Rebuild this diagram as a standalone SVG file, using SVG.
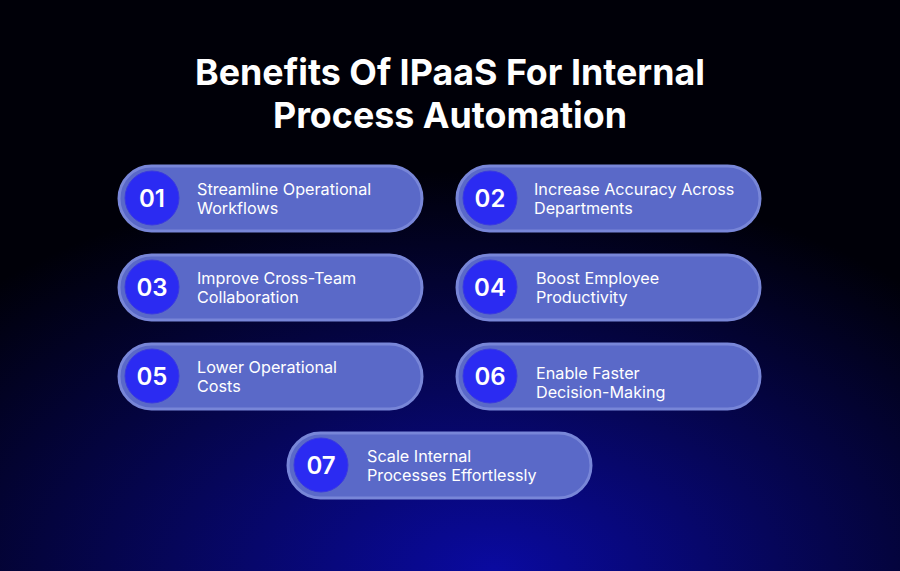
<svg xmlns="http://www.w3.org/2000/svg" width="900" height="571" viewBox="0 0 900 571">
<defs>
<radialGradient id="bg" cx="0.5" cy="1.05" r="0.75" fx="0.55" fy="1">
<stop offset="0" stop-color="#0a0aa0"/>
<stop offset="0.45" stop-color="#06065a"/>
<stop offset="1" stop-color="#000008"/>
</radialGradient>
<style>
.p{fill:#5a69c8;stroke:#7886d8;stroke-width:3}
.c{fill:#2b2bf2;stroke:#3a3ae0;stroke-width:1}
.n{font-family:Inter,"Liberation Sans",sans-serif;font-weight:600;font-size:24px;fill:#fff;text-anchor:middle}
.t{font-family:Inter,"Liberation Sans",sans-serif;font-size:16.2px;fill:#fff}
.h{font-family:Inter,"Liberation Sans",sans-serif;font-weight:700;font-size:35.8px;fill:#fff;text-anchor:middle}
</style>
</defs>
<rect width="900" height="571" fill="url(#bg)"/>
<text class="h" x="450" y="85">Benefits Of IPaaS For Internal</text>
<text class="h" x="450" y="128">Process Automation</text>
<g id="n1"><rect class="p" x="119" y="166" width="303" height="65" rx="32.5"/><circle class="c" cx="152" cy="198" r="27"/><text class="n" x="152" y="207">01</text><text class="t" x="197" y="195">Streamline Operational</text><text class="t" x="197" y="214">Workflows</text></g>
<g id="n2"><rect class="p" x="457" y="166" width="303" height="65" rx="32.5"/><circle class="c" cx="490" cy="198" r="27"/><text class="n" x="490" y="207">02</text><text class="t" x="534" y="195">Increase Accuracy Across</text><text class="t" x="534" y="214">Departments</text></g>
<g id="n3"><rect class="p" x="119" y="255" width="303" height="65" rx="32.5"/><circle class="c" cx="152" cy="287" r="27"/><text class="n" x="152" y="296">03</text><text class="t" x="197" y="284">Improve Cross-Team</text><text class="t" x="197" y="303">Collaboration</text></g>
<g id="n4"><rect class="p" x="457" y="255" width="303" height="65" rx="32.5"/><circle class="c" cx="490" cy="287" r="27"/><text class="n" x="490" y="296">04</text><text class="t" x="536" y="284">Boost Employee</text><text class="t" x="536" y="303">Productivity</text></g>
<g id="n5"><rect class="p" x="119" y="344" width="303" height="65" rx="32.5"/><circle class="c" cx="152" cy="376" r="27"/><text class="n" x="152" y="385">05</text><text class="t" x="197" y="373">Lower Operational</text><text class="t" x="197" y="392">Costs</text></g>
<g id="n6"><rect class="p" x="457" y="344" width="303" height="65" rx="32.5"/><circle class="c" cx="490" cy="376" r="27"/><text class="n" x="490" y="385">06</text><text class="t" x="536" y="379">Enable Faster</text><text class="t" x="536" y="398">Decision-Making</text></g>
<g id="n7"><rect class="p" x="288" y="433" width="303" height="65" rx="32.5"/><circle class="c" cx="321" cy="465" r="27"/><text class="n" x="321" y="474">07</text><text class="t" x="367" y="462">Scale Internal</text><text class="t" x="367" y="481">Processes Effortlessly</text></g>
<g id="connectors"/>
</svg>
